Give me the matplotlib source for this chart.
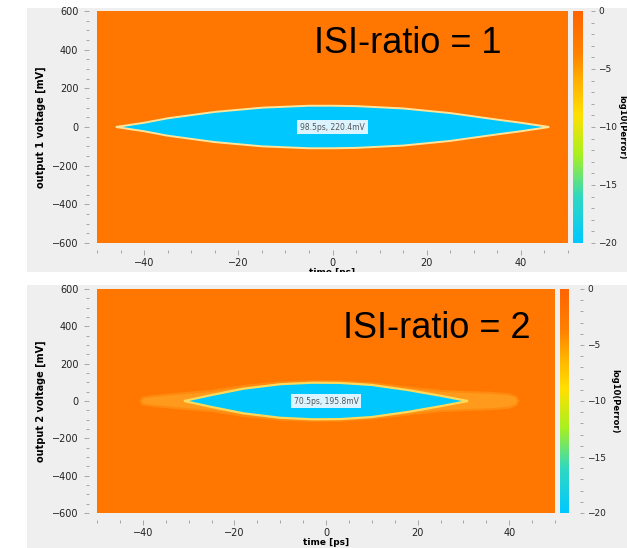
import matplotlib
matplotlib.use("Agg")
import matplotlib.pyplot as plt
from matplotlib.colors import LinearSegmentedColormap, Normalize
from matplotlib.cm import ScalarMappable
from matplotlib.patches import Rectangle
from matplotlib.ticker import MultipleLocator

W, H = 627, 548

# upper half of each eye opening: time [ps] -> voltage [mV]
eye1_t = [-46, -40, -35, -25, -15, -5, 0, 5, 15, 25, 35, 40, 46]
eye1_v = [0, 22, 45, 78, 100, 110, 110, 108, 96, 72, 38, 22, 0]
eye1_label = "98.5ps, 220.4mV"

eye2_t = [-31, -25, -18, -10, -3, 3, 10, 18, 25, 31]
eye2_v = [0, 32, 66, 90, 98, 97, 86, 58, 28, 0]
eye2_label = "70.5ps, 195.8mV"

# lighter band around the second eye (residual ISI)
halo2_t = [-40.5, -40, -38, -31, -25, -18, -10, -3, 3, 10, 18, 25, 31, 36, 40, 41.5, 42]
halo2_v = [0, 18, 26, 42, 54, 80, 100, 106, 105, 95, 72, 54, 48, 44, 36, 22, 0]

time_ticks = [-40, -20, 0, 20, 40]
volt_ticks = [-600, -400, -200, 0, 200, 400, 600]
ber_ticks = [0, -5, -10, -15, -20]

ORANGE = "#ff7700"
CYAN = "#00c8ff"
PANEL = "#efefef"

cmap = LinearSegmentedColormap.from_list("ber", [
    (0.0, "#00c8ff"), (0.2, "#30d8c0"), (0.38, "#a8f020"), (0.55, "#ffe000"),
    (0.7, "#ffb000"), (0.82, "#ff8000"), (1.0, "#ff6400")])
norm = Normalize(vmin=-20, vmax=0)


def fx(px):
    return px / W


def fy(py):
    return 1 - py / H


def outline(t, v):
    xs = list(t) + list(t[::-1])
    ys = list(v) + [-a for a in v[::-1]]
    return xs, ys


def style_axes(ax, ylabel):
    ax.set_facecolor(ORANGE)
    ax.set_xlim(-50, 50)
    ax.set_ylim(-600, 600)
    ax.set_xticks(time_ticks)
    ax.set_yticks(volt_ticks)
    ax.xaxis.set_minor_locator(MultipleLocator(5))
    ax.yaxis.set_minor_locator(MultipleLocator(50))
    for s in ax.spines.values():
        s.set_visible(False)
    ax.spines["left"].set_position(("outward", 6))
    ax.spines["bottom"].set_position(("outward", 5))
    ax.tick_params(which="both", direction="out", color="#9a9a9a", width=0.6,
                   labelsize=7, labelcolor="#222222")
    ax.tick_params(which="major", length=3.5)
    ax.tick_params(axis="y", which="major", pad=4)
    ax.tick_params(axis="x", which="major", pad=2)
    ax.tick_params(which="minor", length=2.5)
    ax.set_ylabel(ylabel, fontsize=7, fontweight="bold", labelpad=4)
    ax.set_xlabel("time [ps]", fontsize=6.5, fontweight="bold", labelpad=0)


def add_colorbar(fig, rect, label_x, offset=8):
    cax = fig.add_axes(rect)
    cb = fig.colorbar(ScalarMappable(norm=norm, cmap=cmap), cax=cax)
    cb.outline.set_visible(False)
    cb.set_ticks(ber_ticks)
    cax.yaxis.set_minor_locator(MultipleLocator(1))
    cax.spines["right"].set_position(("outward", offset))
    cax.tick_params(which="both", direction="out", color="#9a9a9a", width=0.6,
                    labelsize=6.5, labelcolor="#222222")
    cax.tick_params(which="major", length=3, pad=2)
    cax.tick_params(which="minor", length=2)
    cb.set_label("log10(Perror)", fontsize=6, fontweight="bold",
                 rotation=270, va="center")
    cax.yaxis.set_label_coords(label_x, 0.5)
    return cax


def eye_tag(ax, text):
    ax.text(0, 0, text, ha="center", va="center", fontsize=5.5, color="#555555",
            bbox=dict(boxstyle="square,pad=0.35", fc="#f4faff", ec="none", alpha=0.9))


fig = plt.figure(figsize=(W / 100, H / 100), dpi=100)
fig.patch.set_facecolor("white")

# grey panel backgrounds
fig.patches.append(Rectangle((fx(27), fy(272)), fx(600), 264 / H, transform=fig.transFigure,
                             fc=PANEL, ec="none", zorder=-5))
fig.patches.append(Rectangle((fx(27), 0), fx(600), 263 / H, transform=fig.transFigure,
                             fc=PANEL, ec="none", zorder=-5))

# --- ISI-ratio = 1 ---
ax1 = fig.add_axes([fx(97), fy(243), fx(471), 232 / H])
style_axes(ax1, "output 1 voltage [mV]")
xs, ys = outline(eye1_t, eye1_v)
ax1.fill(xs, ys, fc=CYAN, ec="#ffe49a", lw=1.4, zorder=2)
eye_tag(ax1, eye1_label)
add_colorbar(fig, [fx(573), fy(243), fx(10), 232 / H], label_x=(622 - 573) / 10, offset=6)

# --- ISI-ratio = 2 ---
ax2 = fig.add_axes([fx(97), fy(513), fx(458), 224 / H])
style_axes(ax2, "output 2 voltage [mV]")
hx, hy = outline(halo2_t, halo2_v)
ax2.fill(hx, hy, fc="#ff9a1c", ec="#ff8a10", lw=1.5, zorder=1)
xs, ys = outline(eye2_t, eye2_v)
ax2.fill(xs, ys, fc=CYAN, ec="#ffd95a", lw=1.6, zorder=2)
eye_tag(ax2, eye2_label)
add_colorbar(fig, [fx(560), fy(513), fx(9), 224 / H], label_x=(615 - 560) / 9)

# white gap between the two panels clips the upper x label
fig.patches.append(Rectangle((0, fy(284)), 1, 12 / H, transform=fig.transFigure,
                             fc="white", ec="none", zorder=20))

fig.text(fx(314), fy(53), "ISI-ratio = 1", fontsize=26, family="Liberation Sans",
         va="baseline", ha="left", color="black")
fig.text(fx(343), fy(338), "ISI-ratio = 2", fontsize=26, family="Liberation Sans",
         va="baseline", ha="left", color="black")

fig.savefig("out.png", dpi=100)
